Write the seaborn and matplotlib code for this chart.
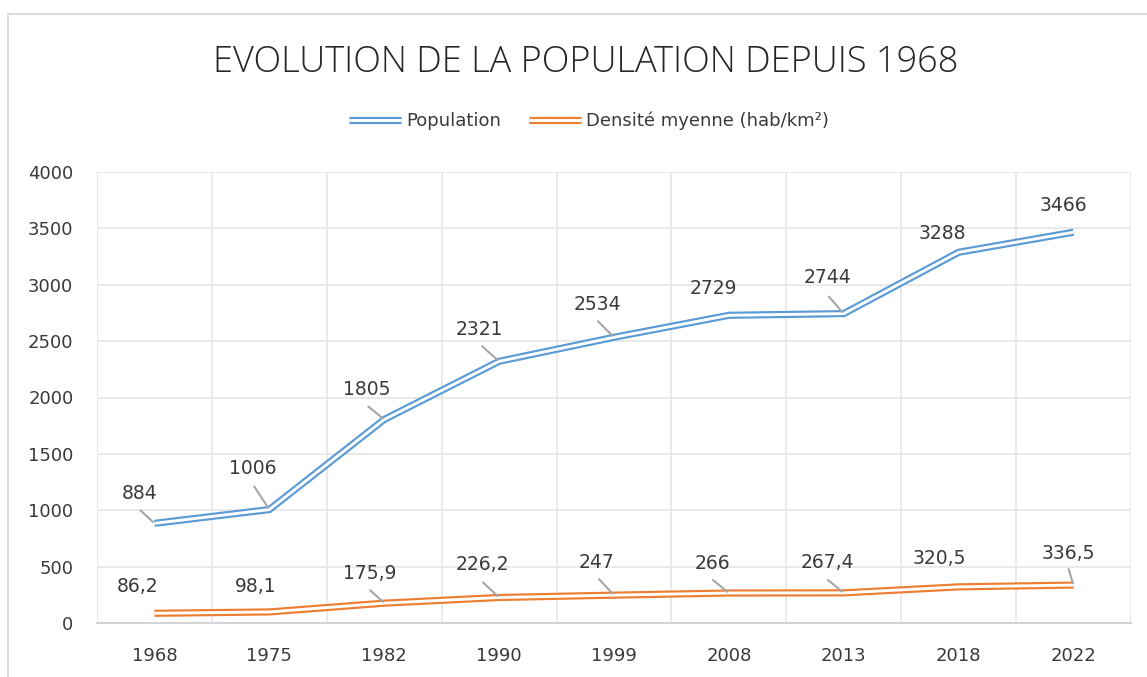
import numpy as np
import pandas as pd
import matplotlib
matplotlib.use("Agg")
import matplotlib.pyplot as plt
from matplotlib.patches import Rectangle
from matplotlib.lines import Line2D
from matplotlib.legend_handler import HandlerTuple
import seaborn as sns

# --- Data ---
YEARS = ['1968', '1975', '1982', '1990', '1999', '2008', '2013', '2018', '2022']
POPULATION = [884, 1006, 1805, 2321, 2534, 2729, 2744, 3288, 3466]
DENSITE = [86.2, 98.1, 175.9, 226.2, 247, 266, 267.4, 320.5, 336.5]
POP_LABELS = ['884', '1006', '1805', '2321', '2534', '2729', '2744', '3288', '3466']
DENS_LABELS = ['86,2', '98,1', '175,9', '226,2', '247', '266', '267,4', '320,5', '336,5']
Y_TICKS = [0, 500, 1000, 1500, 2000, 2500, 3000, 3500, 4000]

# label offsets (pixels, screen y down) and leader line starts (None = no leader)
POP_OFF = [(-15, -30), (-17, -41), (-17, -30), (-20, -32), (-17, -33), (-16, -27), (-16, -36), (-16, -19), (-10, -27)]
POP_LEAD = [(-14, -13), (-15, -23), (-16, -13), (-17, -15), (-16, -16), None, (-15, -17), None, None]
DENS_OFF = [(-17, -27), (-14, -25), (-14, -30), (-17, -33), (-17, -33), (-16, -30), (-16, -30), (-19, -28), (-5, -32)]
DENS_LEAD = [None, None, (-14, -13), (-16, -15), (-15, -16), (-16, -13), (-16, -13), None, (-5, -16)]

BLUE = '#5B9BD5'
ORANGE = '#ED7D31'
TXT = '#3A3A3A'
GRID = '#E8E8E8'

sns.set_style("white")
plt.rcParams['font.family'] = ['DejaVu Sans']

df = pd.DataFrame({'x': np.arange(len(YEARS)), 'pop': POPULATION, 'dens': DENSITE})

fig = plt.figure(figsize=(11.47, 6.77), dpi=100)
ax = fig.add_axes([97 / 1147, 1 - 623 / 677, (1131 - 97) / 1147, (623 - 172) / 677])

PX = 0.72  # points per pixel at dpi 100
OUTER = 7.2 * PX
INNER = 2.9 * PX

for col, color in [('pop', BLUE), ('dens', ORANGE)]:
    sns.lineplot(data=df, x='x', y=col, ax=ax, color=color, linewidth=OUTER,
                 solid_joinstyle='miter', solid_capstyle='butt', zorder=3)
    sns.lineplot(data=df, x='x', y=col, ax=ax, color='white', linewidth=INNER,
                 solid_joinstyle='miter', solid_capstyle='butt', zorder=4)

ax.set_xlim(-0.5, len(YEARS) - 0.5)
ax.set_ylim(0, 4000)
ax.set_yticks(Y_TICKS)
ax.set_yticklabels([str(t) for t in Y_TICKS])
ax.set_xticks(np.arange(len(YEARS)))
ax.set_xticklabels(YEARS)
ax.set_xticks(np.arange(len(YEARS) + 1) - 0.5, minor=True)
ax.set_xlabel('')
ax.set_ylabel('')

ax.grid(False)
ax.yaxis.grid(True, color=GRID, linewidth=1.3, zorder=0)
ax.xaxis.grid(True, which='minor', color=GRID, linewidth=1.3, zorder=0)
ax.set_axisbelow(True)
for s in ['top', 'right', 'left']:
    ax.spines[s].set_visible(False)
ax.spines['bottom'].set_color('#D0D0D0')
ax.spines['bottom'].set_linewidth(1.3)
ax.tick_params(axis='both', which='both', length=0, labelsize=13, labelcolor=TXT)
ax.tick_params(axis='y', pad=17)
ax.tick_params(axis='x', pad=17)

# data labels with leader lines
def put_labels(values, labels, offs, leads):
    for i, (v, lab) in enumerate(zip(values, labels)):
        dx, dy = offs[i]
        ax.annotate(lab, xy=(i, v), xytext=(dx * PX, -dy * PX), textcoords='offset points',
                    ha='center', va='center', fontsize=13.5, color=TXT, zorder=6)
        if leads[i] is not None:
            lx, ly = leads[i]
            ax.annotate('', xy=(i, v), xytext=(lx * PX, -ly * PX), textcoords='offset points',
                        arrowprops=dict(arrowstyle='-', color='#A6A6A6', lw=1.5,
                                        shrinkA=0, shrinkB=1.5), zorder=5)

put_labels(POPULATION, POP_LABELS, POP_OFF, POP_LEAD)
put_labels(DENSITE, DENS_LABELS, DENS_OFF, DENS_LEAD)

# title
fig.text(585.5 / 1147, 1 - 63 / 677, 'EVOLUTION DE LA POPULATION DEPUIS 1968',
         ha='center', va='center', fontsize=26, color='#262626',
         family=['Open Sans', 'DejaVu Sans'], fontweight='light')

# legend with double-line handles
h_pop = (Line2D([], [], color=BLUE, lw=OUTER, solid_capstyle='butt'),
         Line2D([], [], color='white', lw=INNER, solid_capstyle='butt'))
h_dens = (Line2D([], [], color=ORANGE, lw=OUTER, solid_capstyle='butt'),
          Line2D([], [], color='white', lw=INNER, solid_capstyle='butt'))
fig.legend([h_pop, h_dens], ['Population', 'Densité myenne (hab/km²)'],
           handler_map={tuple: HandlerTuple(ndivide=1, pad=0)},
           loc='center', bbox_to_anchor=(589 / 1147, 1 - 121 / 677), ncol=2,
           frameon=False, fontsize=13, handlelength=2.9, handletextpad=0.3,
           columnspacing=1.5, labelcolor=TXT)

# chart area border
fig.add_artist(Rectangle((8 / 1147, -0.05), 1.2, 1.05 - 13.5 / 677, transform=fig.transFigure,
                         fill=False, edgecolor='#D9D9D9', linewidth=1.3))

fig.savefig('out.png', dpi=100)
